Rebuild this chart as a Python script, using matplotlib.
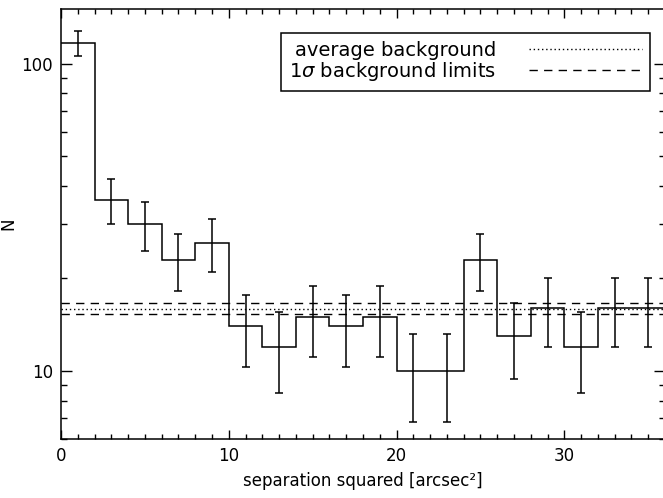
import matplotlib
matplotlib.use("Agg")
import matplotlib.pyplot as plt
from matplotlib.lines import Line2D
from matplotlib.legend_handler import HandlerLine2D
from matplotlib.ticker import MultipleLocator, LogLocator, FixedFormatter, FixedLocator, NullFormatter

# histogram of separation squared, bins of 2 arcsec^2
bin_edges = [0, 2, 4, 6, 8, 10, 12, 14, 16, 18, 20, 22, 24, 26, 28, 30, 32, 34, 36]
bin_centers = [1, 3, 5, 7, 9, 11, 13, 15, 17, 19, 21, 23, 25, 27, 29, 31, 33, 35]
counts = [117, 36, 30, 23, 26, 14, 12, 15, 14, 15, 10, 10, 23, 13, 16, 12, 16, 16]
errors = [10.8, 6.0, 5.5, 4.8, 5.1, 3.7, 3.5, 3.9, 3.7, 3.9, 3.2, 3.2, 4.8, 3.6, 4.0, 3.5, 4.0, 4.0]

bg_mean = 15.95
bg_low = 15.3
bg_high = 16.65

plt.rcParams['font.family'] = ['DejaVu Sans']
plt.rcParams['font.size'] = 12

fig = plt.figure(figsize=(6.63, 4.98), dpi=100)
ax = fig.add_axes([61 / 663, 59 / 498, 604 / 663, 429.5 / 498])

ax.stairs(counts, bin_edges, baseline=None, color="black", linewidth=1.1)
ax.errorbar(bin_centers, counts, yerr=errors, fmt="none", ecolor="black",
            elinewidth=1.1, capsize=2.6, capthick=1.1)

ax.axhline(bg_mean, color="black", linewidth=1, linestyle=(0, (1, 2)))
ax.axhline(bg_high, color="black", linewidth=1, linestyle=(0, (6, 4.5)))
ax.axhline(bg_low, color="black", linewidth=1, linestyle=(0, (6, 4.5)))

ax.set_yscale("log")
ax.set_xlim(0, 36)
ax.set_ylim(6, 150)

ax.xaxis.set_major_locator(MultipleLocator(10))
ax.xaxis.set_minor_locator(MultipleLocator(1))
ax.yaxis.set_major_locator(FixedLocator([10, 100]))
ax.yaxis.set_major_formatter(FixedFormatter(["10", "100"]))
ax.yaxis.set_minor_locator(LogLocator(base=10, subs=range(2, 10)))
ax.yaxis.set_minor_formatter(NullFormatter())

ax.tick_params(axis="both", which="both", direction="in", top=True, right=True,
               width=1, color="black")
ax.tick_params(axis="x", which="major", length=6.2, pad=6)
ax.tick_params(axis="x", which="minor", length=3.6)
ax.tick_params(axis="y", which="major", length=7.7, pad=5.8)
ax.tick_params(axis="y", which="minor", length=4.3)

for sp in ax.spines.values():
    sp.set_linewidth(1.1)

ax.set_xlabel("separation squared [arcsec²]", labelpad=5)
ax.set_ylabel("N", labelpad=3)

handles = [
    Line2D([], [], color="black", linewidth=1, linestyle=(0, (1, 2))),
    Line2D([], [], color="black", linewidth=1, linestyle=(0, (6, 4.5))),
]
hmap = {h: HandlerLine2D(xpad=0.386) for h in handles}
leg = ax.legend(handles, ["average background", r"1$\sigma$ background limits"],
                loc="upper right", bbox_to_anchor=(0.975, 0.945), borderaxespad=0,
                markerfirst=False, handlelength=6.2, handletextpad=1.3,
                labelspacing=0.0, borderpad=0.4, fancybox=False, framealpha=1,
                edgecolor="black", fontsize=14, handler_map=hmap)
leg.get_frame().set_linewidth(1.1)

plt.savefig("out.png", dpi=100)
